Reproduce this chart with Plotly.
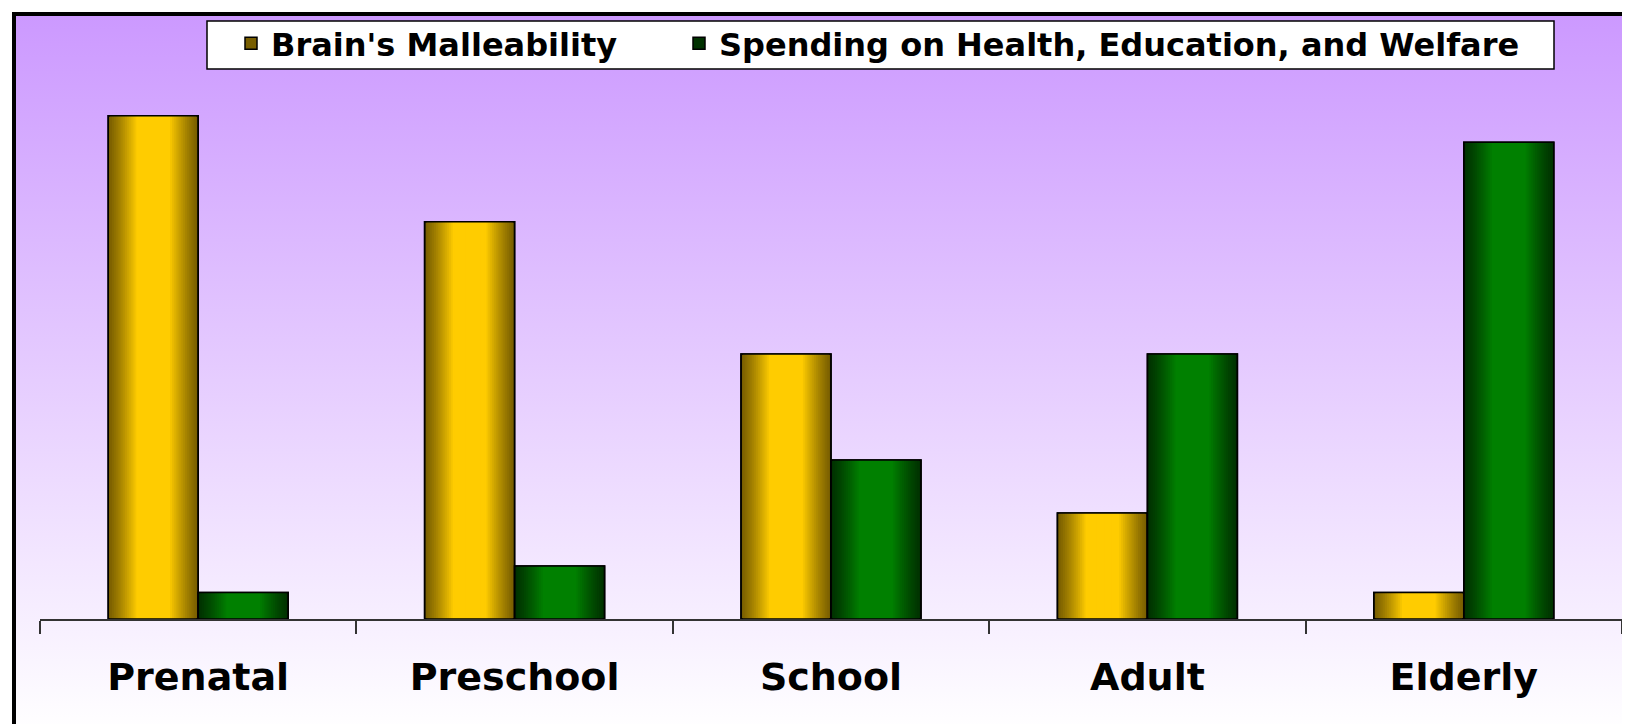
import base64
import plotly.graph_objects as go

# data
stages = ["Prenatal", "Preschool", "School", "Adult", "Elderly"]
malleability = [19, 15, 10, 4, 1]
spending = [1, 2, 6, 10, 18]

W, H = 1630, 724
# page has an 8px body margin, so figure pixels = page pixels - 8
ML, MR, MT, MB = 32, 16, 7, 113
PW, PH = W - ML - MR, H - MT - MB


def px_x(p):
    return (p - ML) / PW


def px_y(p):
    return (H - MB - p) / PH


def mix(c1, c2, t):
    a = [int(c1[i:i + 2], 16) for i in (1, 3, 5)]
    b = [int(c2[i:i + 2], 16) for i in (1, 3, 5)]
    return "rgb(%d,%d,%d)" % tuple(round(x + (y - x) * t) for x, y in zip(a, b))


bw = 90 / (PW / 5)  # one bar width in category units
layers = 24

fig = go.Figure()


def add_series(name, values, dark, bright, side, legend):
    # stacked narrowing bars fake the horizontal shading
    for i in range(layers):
        f = 1 - i / layers
        t = min(1.0, (i + 1) / 16) ** 1.2
        off = (-bw / 2 if side < 0 else bw / 2) - bw * f / 2
        fig.add_trace(go.Bar(
            x=stages, y=values, name=name, legend=legend,
            width=bw * f, offset=off,
            marker=dict(color=mix(dark, bright, t),
                        line=dict(color="black", width=1.5 if i == 0 else 0)),
            showlegend=(i == 0),
        ))
    fig.add_trace(go.Bar(
        x=stages, y=values, width=bw, offset=(-bw if side < 0 else 0),
        marker=dict(color="rgba(0,0,0,0)", line=dict(color="black", width=1.5)),
        showlegend=False, hoverinfo="skip",
    ))


add_series("Brain's Malleability", malleability, "#735A00", "#FFCC00", -1, "legend")
add_series("Spending on Health, Education, and Welfare", spending, "#002E00", "#008000", 1, "legend2")

svg = ('<svg xmlns="http://www.w3.org/2000/svg" width="100" height="100" preserveAspectRatio="none">'
       '<defs><linearGradient id="g" x1="0" y1="0" x2="0" y2="1">'
       '<stop offset="0" stop-color="#CC99FF"/><stop offset="1" stop-color="#FFFFFF"/>'
       '</linearGradient></defs><rect width="100" height="100" fill="url(#g)"/></svg>')
src = "data:image/svg+xml;base64," + base64.b64encode(svg.encode()).decode()

legend_font = dict(size=32, family="DejaVu Sans", weight="bold", color="black")

fig.update_layout(
    width=W, height=H,
    margin=dict(l=ML, r=MR, t=MT, b=MB),
    paper_bgcolor="white", plot_bgcolor="rgba(0,0,0,0)",
    barmode="overlay",
    font=dict(family="DejaVu Sans", weight="bold", color="black"),
    images=[dict(source=src, xref="paper", yref="paper",
                 x=px_x(8), y=px_y(8), sizex=(W - 8) / PW, sizey=(H - 8) / PH,
                 xanchor="left", yanchor="top", sizing="stretch", layer="below")],
    shapes=[
        dict(type="rect", xref="paper", yref="paper",
             x0=px_x(6), x1=px_x(W + 20), y0=px_y(H + 20), y1=px_y(6),
             line=dict(color="black", width=4), fillcolor="rgba(0,0,0,0)"),
        dict(type="rect", xref="paper", yref="paper", layer="above",
             x0=px_x(199), x1=px_x(1546), y0=px_y(61), y1=px_y(13),
             line=dict(color="black", width=1.5), fillcolor="white"),
    ],
    legend=dict(orientation="h", x=px_x(223), y=px_y(8), xanchor="left", yanchor="top",
                bgcolor="rgba(0,0,0,0)", borderwidth=0, font=legend_font),
    legend2=dict(orientation="h", x=px_x(671), y=px_y(8), xanchor="left", yanchor="top",
                 bgcolor="rgba(0,0,0,0)", borderwidth=0, font=legend_font),
    xaxis=dict(range=[-0.5, 4.5], showline=True, linecolor="#333333", linewidth=2,
               ticks="outside", tickson="boundaries", ticklen=13, tickwidth=2,
               tickcolor="#333333", showgrid=False, ticklabelstandoff=23,
               tickfont=dict(size=38, family="DejaVu Sans", weight="bold")),
    yaxis=dict(range=[0, 22.8], visible=False),
)

fig.write_html("out.html")
